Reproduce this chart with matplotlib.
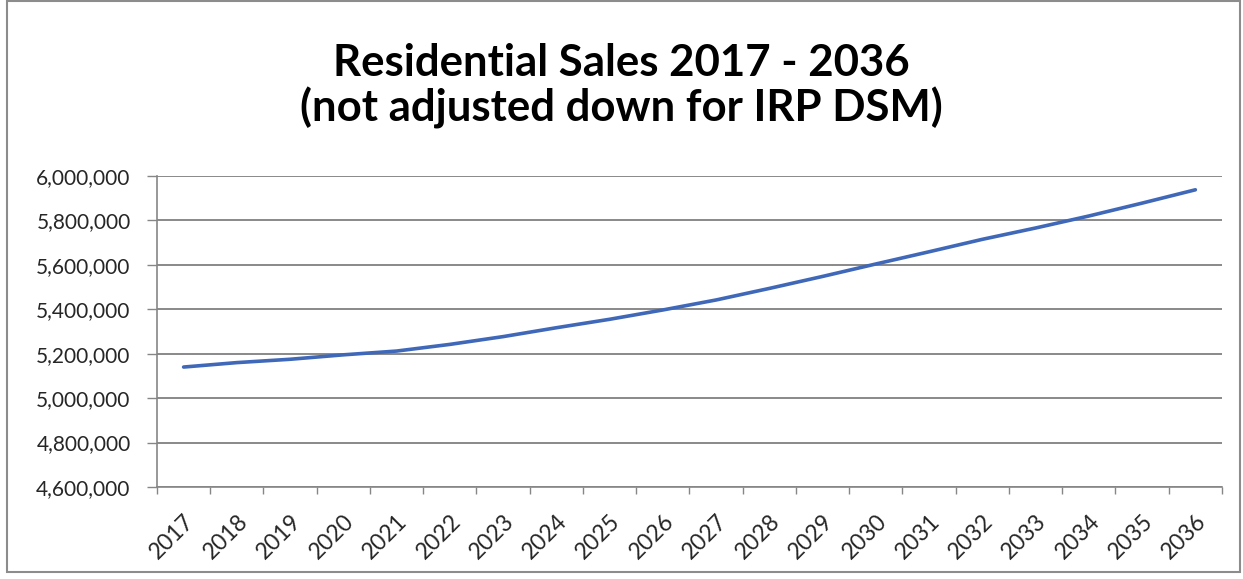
import matplotlib
matplotlib.use("Agg")
import matplotlib.pyplot as plt
from matplotlib.ticker import FuncFormatter, MultipleLocator
from matplotlib.patches import Rectangle

# residential sales by year
years = [str(y) for y in range(2017, 2037)]
sales = [5140000, 5160000, 5175000, 5195000, 5212000, 5242000, 5277000, 5317000,
         5355000, 5397000, 5442000, 5494000, 5548000, 5604000, 5659000, 5715000,
         5766000, 5820000, 5878000, 5938000]

plt.rcParams['font.family'] = ['Lato', 'DejaVu Sans']

fig = plt.figure(figsize=(12.43, 5.79), dpi=100)
ax = fig.add_axes([0.1263, 0.1589, 0.8568, 0.5371])

x = list(range(len(years)))
ax.plot(x, sales, color='#4068b8', lw=2.6, solid_capstyle='round')

ax.set_xlim(-0.5, len(years) - 0.5)
ax.set_ylim(4600000, 6000000)
ax.yaxis.set_major_locator(MultipleLocator(200000))
ax.yaxis.set_major_formatter(FuncFormatter(lambda v, p: f"{int(v):,}"))
ax.grid(axis='y', color='#808080', lw=1.3)
ax.set_axisbelow(True)

ax.set_xticks(x)
ax.set_xticklabels(years, rotation=45, ha='right', va='top', rotation_mode='anchor')
ax.set_xticks([i - 0.5 for i in range(len(years) + 1)], minor=True)
ax.tick_params(axis='x', which='major', length=0, pad=17, labelsize=16.5, colors='#262626')
ax.tick_params(axis='x', which='minor', length=5, color='#868686', width=1)
ax.tick_params(axis='y', length=7, color='#868686', width=1, labelsize=15,
               labelcolor='#262626', pad=12)

for s in ['top', 'right']:
    ax.spines[s].set_visible(False)
for s in ['left', 'bottom']:
    ax.spines[s].set_color('#868686')
    ax.spines[s].set_linewidth(1.2)

fig.text(0.5, 0.852, "Residential Sales 2017 - 2036\n(not adjusted down for IRP DSM)",
         ha='center', va='center', fontsize=31.5, fontweight='bold', linespacing=1.1,
         color='black')

fig.patches.append(Rectangle((0.0056, 0.012), 0.992, 0.986, transform=fig.transFigure,
                             fill=False, edgecolor='#8c8c8c', lw=1.5))

fig.savefig("out.png", dpi=100)
